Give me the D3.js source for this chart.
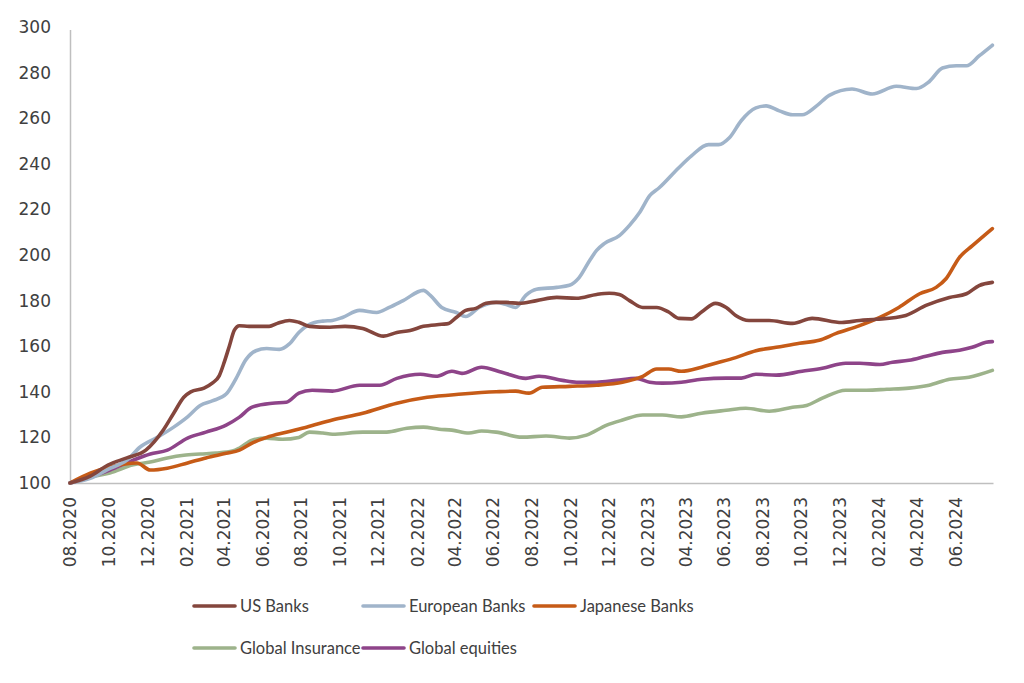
<!DOCTYPE html>
<html>
<head>
<meta charset="utf-8">
<script src="https://cdn.jsdelivr.net/npm/d3@7/dist/d3.min.js"></script>
<style>
  html, body { margin: 0; padding: 0; background: #fff; }
  svg { display: block; }
</style>
</head>
<body>
<svg id="chart" width="1024" height="683"></svg>
<script>
// ---------- DATA ----------
const seriesNames = ["US Banks", "European Banks", "Japanese Banks", "Global Insurance", "Global equities"];

const usBanks = [
  ["2020-08-01",100],["2020-09-02",103],["2020-09-30",107.9],["2020-10-30",111],["2020-11-29",114.4],
  ["2020-12-26",123],["2021-01-12",130.6],["2021-01-28",137.6],["2021-02-08",140],["2021-03-01",141.6],
  ["2021-03-14",143.8],["2021-03-25",147],["2021-04-02",153],["2021-04-10",160],["2021-04-18",167],
  ["2021-04-26",169],["2021-05-11",168.7],["2021-06-12",168.7],["2021-06-25",170],["2021-07-14",171.3],
  ["2021-07-29",170.5],["2021-08-15",168.7],["2021-09-16",168.3],["2021-10-10",168.7],["2021-11-07",167.8],
  ["2021-12-10",164.4],["2021-12-31",166],["2022-01-21",166.9],["2022-02-11",168.7],["2022-03-12",169.6],
  ["2022-03-23",170],["2022-04-04",172.6],["2022-04-19",175.7],["2022-05-05",176.6],["2022-05-21",178.8],
  ["2022-06-06",179.2],["2022-06-22",179.2],["2022-07-12",178.8],["2022-08-09",180],["2022-09-10",181.4],
  ["2022-10-11",181],["2022-11-12",182.7],["2022-12-02",183.2],["2022-12-18",182.7],["2023-01-03",180],
  ["2023-01-24",177],["2023-02-15",177],["2023-03-06",175],["2023-03-22",172.2],["2023-04-11",172],
  ["2023-04-27",175],["2023-05-19",178.8],["2023-06-05",177],["2023-06-20",173.5],["2023-07-11",171.3],
  ["2023-08-12",171.3],["2023-09-18",170],["2023-10-19",172.2],["2023-12-05",170.4],["2024-01-02",171.3],
  ["2024-01-29",171.8],["2024-03-15",173.5],["2024-04-16",177.9],["2024-05-23",181.4],["2024-06-19",183],
  ["2024-07-09",186.6],["2024-07-30",188]
];

const europeanBanks = [
  ["2020-08-01",100],["2020-09-02",102],["2020-09-30",106],["2020-10-30",110],["2020-11-20",115.8],
  ["2020-12-17",120],["2021-01-12",124.5],["2021-02-03",129],["2021-02-23",134],["2021-03-14",136],
  ["2021-04-05",139],["2021-04-21",146],["2021-05-06",154],["2021-05-22",158],["2021-06-08",159],
  ["2021-06-28",158.6],["2021-07-14",161],["2021-07-29",166],["2021-08-15",169.6],["2021-09-05",171],
  ["2021-09-20",171.3],["2021-10-06",172.6],["2021-11-02",175.7],["2021-11-29",174.8],["2021-12-19",177],
  ["2022-01-10",180],["2022-02-11",184.5],["2022-02-22",182.3],["2022-03-12",177],["2022-04-04",174.8],
  ["2022-04-19",173],["2022-05-10",177],["2022-06-06",179.2],["2022-06-22",178.3],["2022-07-07",177],
  ["2022-07-23",182.3],["2022-08-09",185],["2022-09-10",185.8],["2022-09-30",186.7],["2022-10-15",190],
  ["2022-11-01",197.6],["2022-11-12",202],["2022-11-24",205],["2022-12-18",208.5],["2023-01-03",213],
  ["2023-01-19",218.6],["2023-02-04",226],["2023-02-19",229.5],["2023-03-22",238.3],["2023-04-11",243.5],
  ["2023-05-08",248.4],["2023-05-24",248.4],["2023-06-10",251.4],["2023-06-29",259],["2023-07-22",264.5],
  ["2023-08-07",265.4],["2023-08-28",263.2],["2023-09-18",261.5],["2023-10-03",261.5],["2023-10-26",265.4],
  ["2023-11-15",270],["2023-12-21",272.8],["2024-01-22",270.6],["2024-02-29",274],["2024-04-01",273],
  ["2024-04-21",276],["2024-05-12",282],["2024-06-03",283],["2024-06-19",283],["2024-07-09",287.3],
  ["2024-07-30",292]
];

const japaneseBanks = [
  ["2020-08-01",100],["2020-09-02",104.3],["2020-10-03",107],["2020-11-15",108.8],["2020-12-06",105.7],
  ["2021-01-02",106.5],["2021-02-03",108.8],["2021-03-04",111],["2021-04-05",113],["2021-04-26",114.4],
  ["2021-05-16",117.5],["2021-06-08",120],["2021-07-09",122.3],["2021-08-10",124.5],["2021-09-20",127.6],
  ["2021-11-07",130.6],["2021-12-31",135],["2022-02-17",137.6],["2022-04-13",139],["2022-06-06",140],
  ["2022-07-07",140.3],["2022-07-28",139.4],["2022-08-18",142],["2022-09-30",142.4],["2022-11-12",142.9],
  ["2022-12-23",144.2],["2023-01-24",146.8],["2023-02-15",150],["2023-03-06",150],["2023-03-26",149],
  ["2023-04-27",150.8],["2023-05-19",152.5],["2023-06-20",155],["2023-07-22",158],["2023-08-23",159.5],
  ["2023-09-29",161.3],["2023-10-30",162.6],["2023-11-26",165.6],["2024-01-02",169],["2024-02-03",172.6],
  ["2024-03-04",177],["2024-04-06",183],["2024-05-02",185.8],["2024-05-18",189.7],["2024-06-08",199],
  ["2024-06-28",204],["2024-07-30",211.6]
];

const globalInsurance = [
  ["2020-08-01",100],["2020-09-02",102.6],["2020-10-03",104.4],["2020-11-09",108],["2020-12-06",109.2],
  ["2021-01-02",111],["2021-01-28",112.2],["2021-02-23",112.7],["2021-03-20",113.1],["2021-04-15",114],
  ["2021-04-26",115.3],["2021-05-16",118.8],["2021-06-08",119.7],["2021-07-03",119.2],["2021-07-29",120],
  ["2021-08-15",122.3],["2021-09-05",121.9],["2021-09-20",121.4],["2021-11-07",122.3],["2021-12-15",122.3],
  ["2022-01-16",124],["2022-02-11",124.5],["2022-03-08",123.6],["2022-03-28",123.2],["2022-04-24",121.9],
  ["2022-05-14",122.8],["2022-06-06",122.3],["2022-07-17",120.1],["2022-08-24",120.6],["2022-09-30",119.7],
  ["2022-10-27",121],["2022-11-28",125.4],["2022-12-23",127.6],["2023-01-24",129.8],["2023-02-24",129.8],
  ["2023-03-26",129],["2023-04-27",130.6],["2023-06-05",131.9],["2023-07-06",132.8],["2023-08-12",131.5],
  ["2023-09-18",133.2],["2023-10-10",134],["2023-11-04",137.2],["2023-12-11",140.7],["2024-01-13",140.7],
  ["2024-02-14",141.1],["2024-03-20",141.6],["2024-04-21",142.9],["2024-05-23",145.5],["2024-06-23",146.4],
  ["2024-07-30",149.4]
];

const globalEquities = [
  ["2020-08-01",100],["2020-09-02",102.6],["2020-10-03",105.7],["2020-11-09",110],["2020-12-06",112.7],
  ["2021-01-02",114.4],["2021-02-03",119.7],["2021-03-04",122.3],["2021-04-05",125.4],["2021-04-26",128.9],
  ["2021-05-16",133.3],["2021-06-17",135],["2021-07-09",135.4],["2021-07-29",139.4],["2021-08-19",140.7],
  ["2021-09-20",140.3],["2021-11-02",142.9],["2021-12-04",142.9],["2021-12-31",145.9],["2022-02-06",147.7],
  ["2022-03-03",146.8],["2022-03-28",149],["2022-04-13",148.1],["2022-05-14",150.8],["2022-06-15",148.6],
  ["2022-07-23",145.9],["2022-08-13",146.8],["2022-09-19",145],["2022-10-11",144.2],["2022-11-12",144.2],
  ["2022-12-13",145],["2023-01-14",145.9],["2023-02-04",144.2],["2023-02-24",143.8],["2023-03-26",144.2],
  ["2023-04-27",145.5],["2023-06-05",146],["2023-06-29",146],["2023-07-22",147.7],["2023-08-23",147.3],
  ["2023-10-03",149],["2023-11-04",150.3],["2023-12-11",152.5],["2024-01-02",152.5],["2024-02-03",152],
  ["2024-02-23",153],["2024-03-20",153.8],["2024-04-16",155.6],["2024-05-12",157.3],["2024-06-08",158.2],
  ["2024-06-28",159.5],["2024-07-20",161.7],["2024-07-30",162]
];

const yTicks = [100, 120, 140, 160, 180, 200, 220, 240, 260, 280, 300];
const xTickLabels = ["08.2020","10.2020","12.2020","02.2021","04.2021","06.2021","08.2021","10.2021",
  "12.2021","02.2022","04.2022","06.2022","08.2022","10.2022","12.2022","02.2023","04.2023","06.2023",
  "08.2023","10.2023","12.2023","02.2024","04.2024","06.2024"];
const colors = ["#84463d", "#a0b4ca", "#c65b17", "#9db38b", "#8e4489"];

// ---------- CHART ----------
const svg = d3.select("#chart");
const parse = d3.timeParse("%Y-%m-%d");
const parseTick = d3.timeParse("%m.%Y");

const x = d3.scaleTime()
  .domain([parse("2020-08-01"), parse("2024-07-31")])
  .range([70, 993]);
const y = d3.scaleLinear().domain([100, 300]).range([483, 27]);

const axisColor = "#bfbfbf";
const textColor = "#404040";
const axisFont = "DejaVu Sans, Verdana, sans-serif";

// Y axis
const yAxis = svg.append("g").attr("transform", "translate(70,0)")
  .call(d3.axisLeft(y).tickValues(yTicks).tickSize(0).tickPadding(19).tickFormat(d3.format("d")));
yAxis.select(".domain").attr("stroke", axisColor).attr("stroke-width", 1.5)
  .attr("d", `M0.5,${y(300) + 3}V${y(100)}`);
yAxis.selectAll("text").attr("fill", textColor).style("font-family", axisFont).style("font-size", "17px");

// X axis
const xAxis = svg.append("g").attr("transform", `translate(0,${y(100)})`)
  .call(d3.axisBottom(x).tickValues(xTickLabels.map(parseTick)).tickSize(0)
    .tickFormat(d3.timeFormat("%m.%Y")));
xAxis.select(".domain").attr("stroke", axisColor).attr("stroke-width", 1.5);
xAxis.selectAll("text")
  .attr("fill", textColor)
  .style("font-family", axisFont).style("font-size", "17px")
  .attr("text-anchor", "end")
  .attr("dy", "0.35em")
  .attr("transform", "translate(0,14) rotate(-90)")
  .attr("x", 0).attr("y", 0);

// Lines
const allSeries = [usBanks, europeanBanks, japaneseBanks, globalInsurance, globalEquities];
const line = d3.line().curve(d3.curveMonotoneX).x(d => x(parse(d[0]))).y(d => y(d[1]));
const drawOrder = [3, 4, 2, 1, 0];
drawOrder.forEach(i => {
  svg.append("path")
    .datum(allSeries[i])
    .attr("fill", "none")
    .attr("stroke", colors[i])
    .attr("stroke-width", 3.6)
    .attr("stroke-linejoin", "round")
    .attr("stroke-linecap", "round")
    .attr("d", line);
});

// Legend
const legendFont = "Lato, 'Open Sans', sans-serif";
const legendItems = [
  { i: 0, x: 194, y: 606 },
  { i: 1, x: 363, y: 606 },
  { i: 2, x: 534, y: 606 },
  { i: 3, x: 194, y: 648 },
  { i: 4, x: 363, y: 648 }
];
const legend = svg.append("g");
legendItems.forEach(it => {
  const g = legend.append("g").attr("transform", `translate(${it.x},${it.y})`);
  g.append("line").attr("x1", 0).attr("x2", 41).attr("y1", 0).attr("y2", 0)
    .attr("stroke", colors[it.i]).attr("stroke-width", 3.6).attr("stroke-linecap", "round");
  g.append("text").attr("x", 46).attr("y", 0).attr("dy", "0.35em")
    .attr("fill", textColor).style("font-family", legendFont).style("font-size", "16.5px")
    .text(seriesNames[it.i]);
});
</script>
</body>
</html>
